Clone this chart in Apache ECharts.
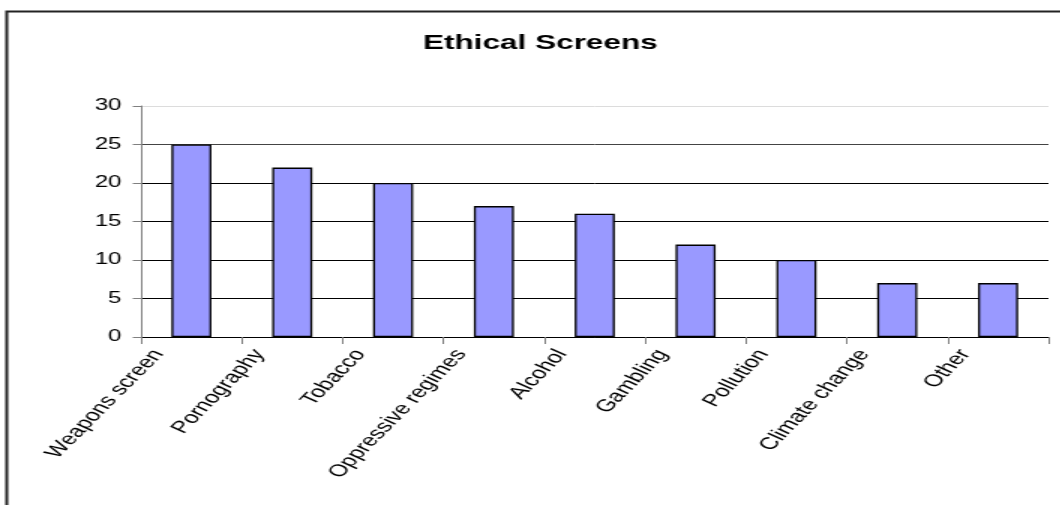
<!DOCTYPE html>
<html>
<head>
<meta charset="utf-8">
<script src="https://cdn.jsdelivr.net/npm/echarts@6/dist/echarts.min.js"></script>
<style>
    html, body { margin: 0; padding: 0; background: #fff; overflow: hidden; }
    /* the reference picture is stretched sideways, so draw narrow and stretch */
    #chart { width: 707px; height: 505px; transform: scaleX(1.5); transform-origin: 0 0; }
</style>
</head>
<body>
<div id="chart"></div>
<script>
/*数据*/
var categories = ['Weapons screen', 'Pornography', 'Tobacco', 'Oppressive regimes', 'Alcohol',
    'Gambling', 'Pollution', 'Climate change', 'Other'];
var values = [25, 22, 20, 17, 16, 12, 10, 7, 7];
var yTicks = [0, 5, 10, 15, 20, 25, 30];

var font = '"Liberation Sans", Arial, sans-serif';

var myChart = echarts.init(document.getElementById('chart'));

var option = {
    backgroundColor: '#fff',
    animation: false,
    title: {
        text: 'Ethical Screens',
        left: 282,
        top: 33,
        padding: 0,
        textStyle: { fontFamily: font, fontSize: 21, fontWeight: 'bold', color: '#000' }
    },
    graphic: [{
        type: 'rect',
        shape: { x: 4.5, y: 11.5, width: 800, height: 600 },
        style: { fill: 'none', stroke: '#222', lineWidth: 2 },
        silent: true
    }],
    grid: { left: 94, right: 8, top: 106, bottom: 168, containLabel: false },
    xAxis: {
        type: 'category',
        data: categories,
        boundaryGap: true,
        axisLine: { lineStyle: { color: '#000', width: 1 } },
        axisTick: { show: true, length: 7, lineStyle: { color: '#808080' } },
        axisLabel: {
            interval: 0,
            rotate: 56,
            margin: 29,
            align: 'right',
            /*用行高把标签往左上挪*/
            verticalAlign: 'bottom',
            lineHeight: 53,
            fontFamily: font,
            fontSize: 17,
            color: '#000'
        }
    },
    yAxis: {
        type: 'value',
        min: yTicks[0],
        max: yTicks[yTicks.length - 1],
        interval: 5,
        axisLine: { show: true, lineStyle: { color: '#808080', width: 1 } },
        axisTick: { show: true, length: 5.5, lineStyle: { color: '#808080' } },
        axisLabel: { margin: 13, fontFamily: font, fontSize: 16, color: '#000' },
        splitLine: {
            show: true,
            lineStyle: { color: ['#000', '#000', '#000', '#000', '#000', '#444', '#dcdcdc'], width: 1 }
        }
    },
    series: [{
        name: 'Ethical Screens',
        type: 'bar',
        data: values,
        barWidth: 26.7,
        itemStyle: { color: '#9999ff', borderColor: '#000', borderWidth: 1.3 }
    }]
};

myChart.setOption(option);
</script>
</body>
</html>
